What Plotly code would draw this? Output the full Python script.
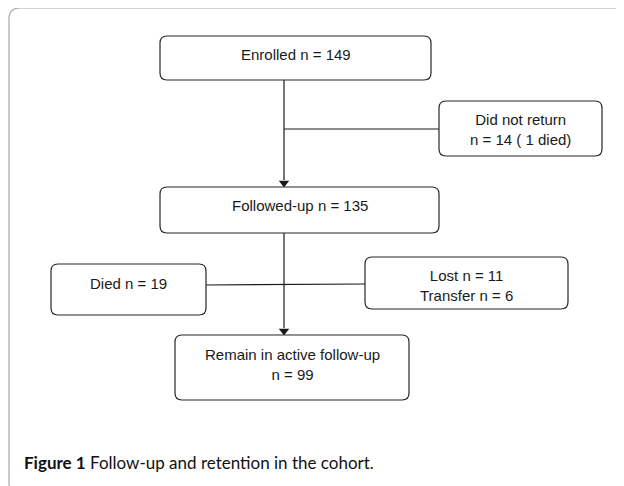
import plotly.graph_objects as go

# ---- data ----
stages = ["Enrolled", "Did not return", "Followed-up", "Died", "Lost", "Transfer", "Remain in active follow-up"]
counts = [149, 14, 135, 19, 11, 6, 99]
died_among_not_returned = 1
caption_bold = "Figure 1"
caption_text = "Follow-up and retention in the cohort."

texts = {
    "enrolled": f"{stages[0]} n = {counts[0]}",
    "dnr": f"{stages[1]}<br>n = {counts[1]} ( {died_among_not_returned} died)",
    "followed": f"{stages[2]} n = {counts[2]}",
    "died": f"{stages[3]} n = {counts[3]}",
    "lost": f"{stages[4]} n = {counts[4]}<br>{stages[5]} n = {counts[5]}",
    "remain": f"{stages[6]}<br>n = {counts[6]}",
}

# ---- layout geometry (window pixel space) ----
boxes = {
    "enrolled": (160, 36, 431, 80, 54),
    "dnr": (439, 101, 602, 156, 129),
    "followed": (160, 187, 439, 233, 205),
    "died": (51, 264, 206, 315, 283),
    "lost": (365, 257, 568, 309, 285),
    "remain": (175, 335, 409, 400, 364),
}
spine_x = 284
PAD = 8  # browser body margin


def rrect(x0, y0, x1, y1, r):
    return (f"M {x0+r},{y0} L {x1-r},{y0} Q {x1},{y0} {x1},{y0+r} "
            f"L {x1},{y1-r} Q {x1},{y1} {x1-r},{y1} L {x0+r},{y1} "
            f"Q {x0},{y1} {x0},{y1-r} L {x0},{y0+r} Q {x0},{y0} {x0+r},{y0} Z")


fig = go.Figure()
shapes = []
annotations = []

# outer frame
shapes.append(dict(type="path", path=rrect(9, 8, 660, 494, 11),
                   line=dict(color="#a8a8a8", width=1.2), layer="below"))

for key, (x0, y0, x1, y1, ty) in boxes.items():
    shapes.append(dict(type="path", path=rrect(x0, y0, x1, y1, 7),
                       line=dict(color="#262626", width=1.2), fillcolor="white"))
    annotations.append(dict(x=(x0 + x1) / 2, y=ty, text=texts[key], showarrow=False,
                            xanchor="center", yanchor="middle",
                            font=dict(family="Liberation Sans, Arial", size=15, color="#1a1a1a")))

eb = boxes["enrolled"]; fb = boxes["followed"]; rb = boxes["remain"]
db = boxes["dnr"]; dd = boxes["died"]; lb = boxes["lost"]

line_style = dict(color="#1a1a1a", width=1.2)
fig.add_trace(go.Scatter(x=[spine_x, spine_x], y=[eb[3], fb[1] - 7], mode="lines",
                         line=line_style, hoverinfo="skip"))
fig.add_trace(go.Scatter(x=[spine_x, spine_x], y=[fb[3], rb[1] - 7], mode="lines",
                         line=line_style, hoverinfo="skip"))
fig.add_trace(go.Scatter(x=[spine_x, db[0]], y=[129, 129], mode="lines",
                         line=line_style, hoverinfo="skip"))
fig.add_trace(go.Scatter(x=[dd[2], lb[0]], y=[285, 284], mode="lines",
                         line=line_style, hoverinfo="skip"))
fig.add_trace(go.Scatter(x=[spine_x, spine_x], y=[fb[1] - 4, rb[1] - 4], mode="markers",
                         marker=dict(symbol="triangle-down", size=9, color="#1a1a1a",
                                     line=dict(width=0)), hoverinfo="skip"))

annotations.append(dict(x=22, y=462, xanchor="left", yanchor="middle", showarrow=False,
                        text=f"<b>{caption_bold}</b> {caption_text}",
                        font=dict(family="Lato, Open Sans", size=17, color="#111")))

fig.update_layout(
    width=624 - PAD, height=486 - PAD, margin=dict(l=0, r=0, t=0, b=0),
    paper_bgcolor="white", plot_bgcolor="white", showlegend=False,
    xaxis=dict(range=[PAD, 624], visible=False, fixedrange=True),
    yaxis=dict(range=[486, PAD], visible=False, fixedrange=True),
    shapes=shapes, annotations=annotations,
)
fig.write_html("out.html")
